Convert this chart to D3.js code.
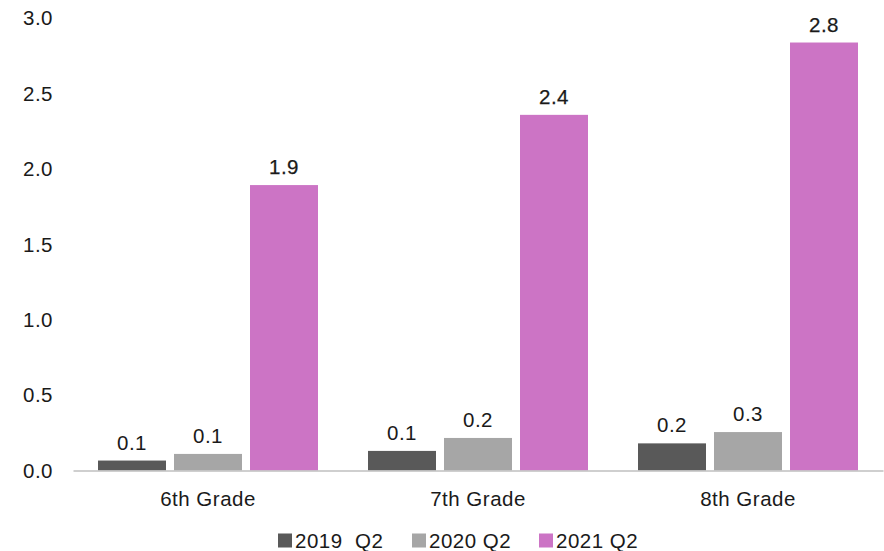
<!DOCTYPE html>
<html>
<head>
<meta charset="utf-8">
<script src="https://cdn.jsdelivr.net/npm/d3@7"></script>
<style>
  html, body { margin: 0; padding: 0; background: #fff; }
  svg text { font-family: "Liberation Sans", Arial, sans-serif; fill: #1a1a1a; }
</style>
</head>
<body>
<svg id="chart" width="884" height="551"></svg>
<script>
const categories = ["6th Grade", "7th Grade", "8th Grade"];
const seriesNames = ["2019  Q2", "2020 Q2", "2021 Q2"];
const values2019 = [0.066, 0.13, 0.18];
const values2020 = [0.11, 0.216, 0.255];
const values2021 = [1.894, 2.36, 2.84];
const labels2019 = ["0.1", "0.1", "0.2"];
const labels2020 = ["0.1", "0.2", "0.3"];
const labels2021 = ["1.9", "2.4", "2.8"];
const yTicks = [0, 0.5, 1.0, 1.5, 2.0, 2.5, 3.0];
const colors = ["#595959", "#A6A6A6", "#CC74C5"];

const series = [values2019, values2020, values2021];
const seriesLabels = [labels2019, labels2020, labels2021];

const svg = d3.select("#chart");
const plotLeft = 73, plotRight = 883, plotTop = 18.4, plotBottom = 470.5;
const fs = 20.5;

const y = d3.scaleLinear().domain([0, 3]).range([plotBottom, plotTop]);
const x0 = d3.scaleBand().domain(categories).range([plotLeft, plotRight]).padding(0);
const x1 = d3.scaleBand().domain(d3.range(3)).range([25, 245]).paddingInner(8 / 76).paddingOuter(0);

// y axis labels
const yAxis = d3.axisLeft(y).tickValues(yTicks).tickFormat(d3.format(".1f")).tickSize(0).tickPadding(0);
const yg = svg.append("g").attr("transform", `translate(53,0)`).call(yAxis);
yg.select(".domain").remove();
yg.selectAll("text").attr("font-size", fs).attr("fill", "#1a1a1a")
  .style("font-family", '"Liberation Sans", Arial, sans-serif').style("letter-spacing", "0.5px");

// bars
const groups = svg.append("g").selectAll("g").data(categories).join("g")
  .attr("transform", d => `translate(${x0(d)},0)`);

groups.each(function(cat, ci) {
  const g = d3.select(this);
  series.forEach((vals, si) => {
    const v = vals[ci];
    g.append("rect")
      .attr("x", x1(si))
      .attr("y", y(v))
      .attr("width", x1.bandwidth())
      .attr("height", y(0) - y(v))
      .attr("fill", colors[si]);
    g.append("text")
      .attr("x", x1(si) + x1.bandwidth() / 2)
      .attr("y", y(v) - 11)
      .attr("text-anchor", "middle")
      .attr("font-size", fs)
      .style("letter-spacing", "0.5px")
      .attr("stroke", si === 2 ? "#1a1a1a" : "none")
      .attr("stroke-width", si === 2 ? 0.25 : 0)
      .text(seriesLabels[si][ci]);
  });
});

// x axis
const xAxis = d3.axisBottom(x0).tickSize(0).tickPadding(0);
const xg = svg.append("g").attr("transform", `translate(0,${plotBottom})`).call(xAxis);
xg.select(".domain").attr("stroke", "#BFBFBF").attr("stroke-width", 1.5);
xg.selectAll("text").attr("font-size", fs).attr("dy", null).attr("y", 35.5)
  .attr("fill", "#1a1a1a")
  .style("font-family", '"Liberation Sans", Arial, sans-serif').style("letter-spacing", "0.5px");

// legend
const legendX = [278, 412, 539];
const legend = svg.append("g");
seriesNames.forEach((name, i) => {
  legend.append("rect").attr("x", legendX[i]).attr("y", 533.5).attr("width", 14).attr("height", 14).attr("fill", colors[i]);
  legend.append("text").attr("x", legendX[i] + 17).attr("y", 547.5).attr("font-size", fs)
    .style("letter-spacing", "0.5px").style("white-space", "pre").attr("xml:space", "preserve").text(name);
});
</script>
</body>
</html>
